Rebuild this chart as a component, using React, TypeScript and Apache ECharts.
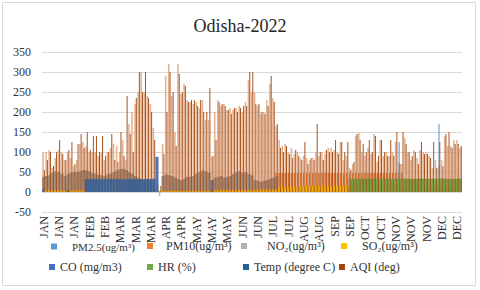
import { useEffect, useRef } from 'react';
import * as echarts from 'echarts';

const tickLabels = ['JAN','JAN','JAN','FEB','FEB','MAR','MAR','MAR','APR','APR','MAY','MAY','MAY','JUN','JUN','JUL','JUL','AUG','AUG','SEP','SEP','OCT','OCT','NOV','NOV','NOV','DEC','DEC'];
const perTick = 5;
const dayCount = 137;
const categories = Array.from({ length: dayCount }, (_, i) => tickLabels[Math.floor(i / perTick)]);

const pm10 = [
  100,100,105,60,85,105,100,80,100,85,
  65,80,120,125,115,100,100,100,90,100,
  80,100,110,120,115,100,130,80,170,200,
  220,250,300,250,240,220,160,30,-10,120,
  290,320,240,150,320,245,270,230,225,220,
  225,210,230,180,180,88,200,230,215,220,
  205,210,205,210,215,200,225,280,250,250,
  215,195,200,230,270,235,165,130,115,120,
  100,110,95,100,85,90,85,80,85,100,
  90,100,95,110,110,105,100,125,80,90,
  60,70,140,148,100,90,110,95,145,75,
  130,90,100,90,100,125,75,70,135,100,
  80,105,85,105,100,100,90,60,80,65,
  80,140,115,115,130,130,110];

const aqi = [
  55,80,100,65,100,130,95,80,105,125,
  70,120,145,110,150,105,140,140,100,140,
  90,100,145,80,75,150,90,240,145,100,
  235,300,250,300,235,200,130,20,15,95,
  200,300,250,115,295,250,265,225,230,230,
  215,230,200,200,260,90,130,225,220,215,
  205,195,210,200,210,215,215,300,300,220,
  220,200,195,215,290,225,170,110,100,115,
  95,85,105,90,80,125,70,85,80,170,
  100,80,105,100,100,130,95,125,100,125,
  55,75,145,130,120,100,130,100,140,90,
  130,100,90,130,90,150,70,150,120,100,
  90,100,70,125,95,95,85,125,60,125,
  65,145,150,110,120,120,115];

const no2 = [
  38,40,42,48,52,50,45,40,45,48,
  50,50,52,55,54,52,48,46,44,42,
  40,44,46,50,54,57,58,55,50,45,
  40,36,33,30,28,30,34,null,null,40,
  44,42,40,36,32,30,33,38,38,40,
  46,50,54,52,48,null,36,38,40,36,
  38,40,45,50,52,48,50,45,42,30,
  28,25,28,30,33,36,40,null,null,null,
  null,null,null,null,null,null,null,null,null,null,
  null,null,null,null,null,null,null,null,null,null,
  null,null,null,null,null,null,null,null,null,null,
  null,null,null,null,null,null,null,null,null,null,
  null,null,null,null,null,null,null,null,null,null,
  null,null,null,null,null,null,null];

const so2 = [
  4,4,5,4,4,5,4,4,4,5,
  4,4,4,4,3,3,3,3,3,3,
  3,3,3,3,3,3,3,3,3,3,
  3,3,3,3,3,3,3,3,3,3,
  3,3,3,3,3,3,3,3,3,3,
  3,3,3,3,3,5,5,5,6,5,
  5,5,5,6,5,5,5,5,5,6,
  6,6,7,6,6,6,6,12,12,13,
  12,14,14,13,14,15,16,16,15,16,
  16,15,15,14,15,15,17,17,16,17,
  12,12,12,12,12,12,12,12,12,12,
  12,12,12,12,12,12,12,12,12,12,
  12,12,12,12,12,12,12,12,12,12,
  12,12,12,12,12,12,12];

const co = [
  8,null,null,null,null,null,null,null,6,null,
  null,null,null,null,null,null,null,null,null,null,
  null,null,null,null,null,null,null,null,null,null,
  null,null,null,null,null,null,null,88,null,null,
  null,null,null,null,null,null,null,null,null,null,
  null,null,null,null,null,30,null,null,null,null,
  null,null,null,null,null,null,null,null,null,null,
  null,null,null,null,null,null,null,null,null,null,
  null,null,null,null,null,null,null,null,null,null,
  null,null,null,null,null,null,null,null,null,null,
  null,null,null,null,null,null,null,null,null,null,
  null,null,null,null,null,null,null,2,2,2,
  2,2,2,2,2,2,2,2,2,2,
  2,2,2,2,2,2,2];

const hr = [
  null,null,null,null,null,null,null,null,null,null,
  null,null,null,null,null,null,null,null,null,null,
  null,null,null,null,null,null,null,null,null,null,
  null,null,null,null,null,null,null,null,null,null,
  null,null,null,null,null,null,null,null,null,null,
  null,null,null,null,null,null,null,null,null,null,
  null,null,null,null,null,null,null,null,null,null,
  null,null,null,null,null,null,null,null,null,null,
  null,null,null,null,null,null,null,null,null,null,
  null,null,null,null,null,null,null,null,null,null,
  33,33,34,33,33,33,34,33,33,33,
  33,34,33,33,33,33,33,34,33,33,
  33,33,33,34,33,33,33,33,33,33,
  34,33,33,33,33,33,33];

const temp = [
  null,null,null,null,null,null,null,null,null,null,
  null,null,null,null,32,32,32,33,32,32,
  32,32,33,32,32,32,32,32,33,32,
  32,32,32,32,33,32,32,null,null,null,
  null,null,null,null,null,null,null,null,null,null,
  null,null,null,null,null,null,null,null,null,null,
  null,null,null,null,null,null,null,null,null,null,
  null,null,null,null,null,null,null,null,null,null,
  null,null,null,null,null,null,null,null,null,null,
  null,null,null,null,null,null,null,null,null,null,
  null,null,null,null,null,null,null,null,null,null,
  null,null,null,null,null,null,null,null,null,null,
  null,null,null,null,null,null,null,null,null,null,
  null,null,null,null,null,null,null];

const pm25 = [
  10,null,null,null,null,null,null,null,null,null,
  null,null,null,null,null,null,null,null,null,null,
  null,null,null,null,null,null,null,null,null,null,
  null,null,null,null,null,null,null,null,null,null,
  null,null,null,null,null,null,null,null,null,null,
  null,null,null,null,null,null,null,null,null,null,
  null,null,null,null,null,null,null,null,null,null,
  null,null,null,null,null,null,null,null,null,null,
  null,null,null,null,null,null,null,null,null,null,
  null,null,null,null,null,null,null,null,null,null,
  null,null,null,null,null,null,null,null,null,null,
  null,null,null,null,null,null,125,null,null,null,
  null,null,null,null,null,null,null,null,null,170,
  null,null,null,null,null,null,null];

const FONT = "'Liberation Serif', 'Times New Roman', serif";
const PEACH = '#E5B391';
const ORANGE = '#D86A22';
// style: stretch of days where the lower part of the PM10 columns reads as solid orange
const BAND_FROM = 76;
const BAND_TO = 117;
const BAND_LEVEL = 47;

const NAMES = {
  pm25: 'PM2.5(ug/m³)',
  pm10: 'PM10(ug/m³)',
  no2: 'NO₂(ug/m³)',
  so2: 'SO₂(ug/m³)',
  co: 'CO (mg/m3)',
  hr: 'HR (%)',
  temp: 'Temp (degree C)',
  aqi: 'AQI (deg)',
};

function legendItem(name: string, color: string, left: number, top: number, pad: number, size = 12) {
  return {
    data: [{ name, itemStyle: { color } }],
    left,
    top,
    icon: 'rect',
    itemWidth: 6,
    itemHeight: 6,
    padding: 0,
    textStyle: { fontFamily: FONT, fontSize: size, color: '#333333', padding: [0, 0, 0, pad] },
  };
}

export default function App() {
  const ref = useRef<HTMLDivElement>(null);
  useEffect(() => {
    if (!ref.current) return;
    const chart = echarts.init(ref.current, null, { renderer: 'svg' });
    const hidden = { type: 'category', data: categories, show: false, gridIndex: 0 };
    const option: any = {
      animation: false,
      backgroundColor: '#ffffff',
      title: {
        text: 'Odisha-2022',
        left: 'center',
        top: 12,
        textStyle: { fontFamily: FONT, fontSize: 18, fontWeight: 'normal', color: '#262626' },
      },
      graphic: [
        {
          type: 'rect',
          silent: true,
          z: -10,
          shape: { x: 2.5, y: 2.5, width: 473, height: 283 },
          style: { fill: 'none', stroke: '#D9D9D9', lineWidth: 1 },
        },
      ],
      grid: { left: 42, right: 18, top: 52, bottom: 78, containLabel: false },
      xAxis: [
        {
          type: 'category',
          data: categories,
          gridIndex: 0,
          axisTick: { show: false },
          axisLine: { onZero: true, lineStyle: { color: '#D9D9D9' } },
          axisLabel: { interval: perTick - 1, rotate: 90, margin: 4, fontFamily: FONT, fontSize: 12, color: '#333333' },
        },
        hidden,
        hidden,
      ],
      yAxis: {
        type: 'value',
        min: -50,
        max: 350,
        interval: 50,
        axisLine: { show: false },
        axisTick: { show: false },
        splitLine: { lineStyle: { color: '#D9D9D9', width: 1 } },
        axisLabel: { margin: 11, fontFamily: FONT, fontSize: 12, color: '#333333' },
      },
      legend: [
        legendItem(NAMES.pm25, '#5B9BD5', 51, 241, 10, 11),
        legendItem(NAMES.pm10, '#ED7D31', 147, 240, 8),
        legendItem(NAMES.no2, '#A5A5A5', 241, 240, 15),
        legendItem(NAMES.so2, '#FFC000', 341, 240, 10),
        legendItem(NAMES.co, '#4472C4', 49, 261, 0),
        legendItem(NAMES.hr, '#70AD47', 147, 261, 0),
        legendItem(NAMES.temp, '#255E91', 243, 261, 0),
        legendItem(NAMES.aqi, '#9E480E', 339, 261, 0),
      ],
      series: [
        { id: 'pm10', name: NAMES.pm10, type: 'bar', xAxisIndex: 0, data: pm10, barWidth: '52%', barGap: '0%', itemStyle: { color: PEACH } },
        { name: NAMES.pm25, type: 'bar', xAxisIndex: 2, data: pm25, barWidth: '35%', itemStyle: { color: '#5B9BD5' } },
        { name: NAMES.no2, type: 'bar', xAxisIndex: 1, data: no2, barWidth: '100%', barGap: '-100%', itemStyle: { color: '#917B6C', opacity: 0.85 } },
        { name: NAMES.so2, type: 'bar', xAxisIndex: 1, data: so2, barWidth: '100%', barGap: '-100%', itemStyle: { color: '#F0AE05' } },
        { name: NAMES.co, type: 'bar', xAxisIndex: 1, data: co, barWidth: '100%', barGap: '-100%', itemStyle: { color: '#4A74B8' } },
        { name: NAMES.hr, type: 'bar', xAxisIndex: 1, data: hr, barWidth: '100%', barGap: '-100%', itemStyle: { color: '#70A040' } },
        { name: NAMES.aqi, type: 'bar', xAxisIndex: 0, data: aqi, barWidth: '32%', barGap: '0%', itemStyle: { color: '#A8521C' } },
        { name: NAMES.temp, type: 'bar', xAxisIndex: 1, data: temp, barWidth: '100%', barGap: '-100%', itemStyle: { color: '#3F6293' } },
      ],
    };
    chart.setOption(option);
    const y0 = chart.convertToPixel({ yAxisIndex: 0 }, 0) as number;
    const yTop = chart.convertToPixel({ yAxisIndex: 0 }, 350) as number;
    const yMid = chart.convertToPixel({ yAxisIndex: 0 }, BAND_LEVEL) as number;
    const t = (yMid - yTop) / (y0 - yTop);
    const band = new echarts.graphic.LinearGradient(0, yTop, 0, y0, [
      { offset: 0, color: PEACH },
      { offset: t, color: PEACH },
      { offset: t, color: ORANGE },
      { offset: 1, color: ORANGE },
    ], true);
    chart.setOption({
      series: [
        {
          id: 'pm10',
          data: pm10.map((v, i) => (i >= BAND_FROM && i <= BAND_TO ? { value: v, itemStyle: { color: band } } : v)),
        },
      ],
    });
    return () => chart.dispose();
  }, []);
  return <div ref={ref} style={{ position: 'absolute', left: 0, top: 0, width: 480, height: 290 }} />;
}
